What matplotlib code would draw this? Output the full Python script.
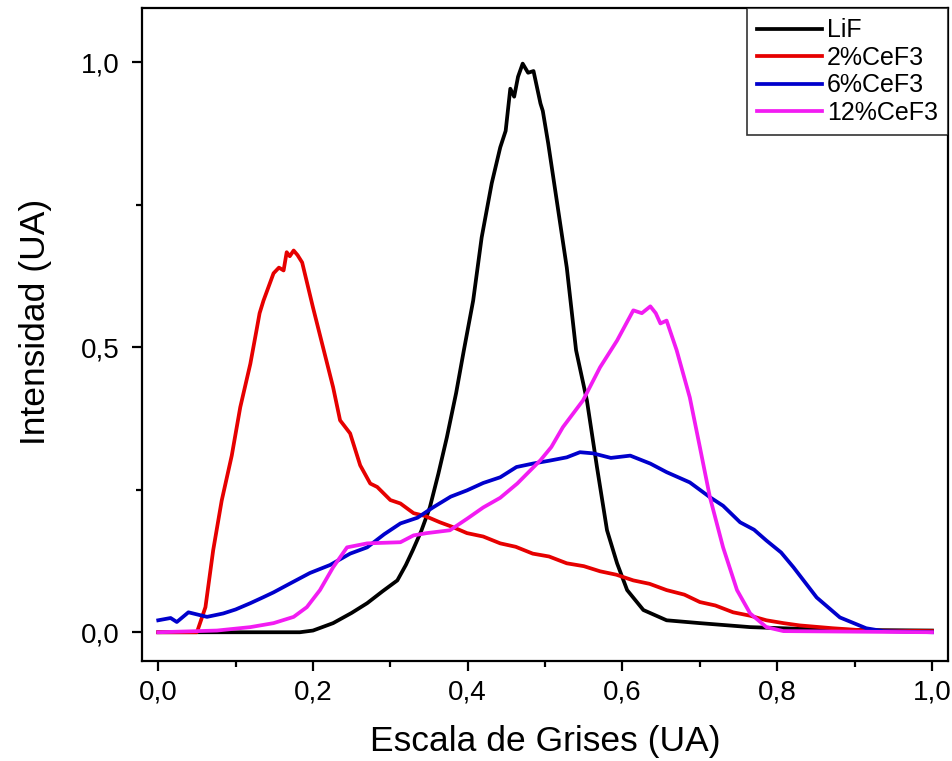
import matplotlib
matplotlib.use("Agg")
import matplotlib.pyplot as plt
from matplotlib.ticker import MultipleLocator

plt.rcParams['font.family'] = ['Liberation Sans', 'DejaVu Sans']

# Histogramas normalizados de escala de grises
lif_x = [0.0, 0.10, 0.183, 0.200, 0.226, 0.250, 0.270, 0.290, 0.309, 0.320, 0.329,
         0.340, 0.351, 0.362, 0.373, 0.385, 0.395, 0.407, 0.418, 0.431, 0.442, 0.449,
         0.455, 0.460, 0.465, 0.471, 0.478, 0.485, 0.494, 0.497, 0.504, 0.515, 0.528,
         0.540, 0.554, 0.567, 0.580, 0.593, 0.606, 0.627, 0.657, 0.700, 0.765, 0.829,
         0.900, 1.0]
lif_y = [0.0, 0.0, 0.0, 0.003, 0.016, 0.034, 0.051, 0.072, 0.091, 0.118, 0.144,
         0.178, 0.219, 0.278, 0.342, 0.420, 0.495, 0.582, 0.693, 0.788, 0.851, 0.880,
         0.954, 0.940, 0.975, 0.998, 0.982, 0.985, 0.928, 0.915, 0.858, 0.758, 0.640,
         0.495, 0.407, 0.290, 0.179, 0.121, 0.074, 0.039, 0.021, 0.016, 0.009, 0.006,
         0.004, 0.003]

ce2_x = [0.0, 0.050, 0.061, 0.071, 0.082, 0.095, 0.106, 0.119, 0.127, 0.131, 0.136,
         0.149, 0.156, 0.162, 0.166, 0.170, 0.175, 0.180, 0.186, 0.200, 0.213, 0.226,
         0.235, 0.248, 0.261, 0.274, 0.283, 0.300, 0.313, 0.330, 0.345, 0.364, 0.380,
         0.399, 0.420, 0.442, 0.462, 0.484, 0.505, 0.528, 0.550, 0.571, 0.592, 0.614,
         0.635, 0.657, 0.680, 0.700, 0.720, 0.743, 0.765, 0.786, 0.808, 0.829, 0.872,
         0.915, 1.0]
ce2_y = [0.0, 0.0, 0.044, 0.144, 0.231, 0.310, 0.395, 0.471, 0.530, 0.560, 0.582,
         0.630, 0.640, 0.635, 0.667, 0.660, 0.670, 0.662, 0.649, 0.570, 0.500, 0.430,
         0.372, 0.349, 0.293, 0.261, 0.255, 0.232, 0.226, 0.209, 0.204, 0.193, 0.185,
         0.174, 0.168, 0.156, 0.150, 0.138, 0.133, 0.121, 0.116, 0.107, 0.101, 0.091,
         0.085, 0.074, 0.066, 0.053, 0.047, 0.035, 0.029, 0.021, 0.016, 0.012, 0.007,
         0.003, 0.002]

ce6_x = [0.0, 0.016, 0.024, 0.039, 0.063, 0.084, 0.100, 0.119, 0.135, 0.149, 0.171,
         0.196, 0.222, 0.248, 0.270, 0.292, 0.313, 0.335, 0.355, 0.378, 0.399, 0.420,
         0.442, 0.463, 0.484, 0.505, 0.528, 0.545, 0.562, 0.585, 0.610, 0.636, 0.657,
         0.687, 0.713, 0.730, 0.752, 0.770, 0.786, 0.805, 0.821, 0.851, 0.881, 0.915,
         0.937, 1.0]
ce6_y = [0.021, 0.025, 0.018, 0.035, 0.027, 0.033, 0.040, 0.051, 0.061, 0.070, 0.086,
         0.104, 0.118, 0.138, 0.149, 0.172, 0.191, 0.201, 0.219, 0.238, 0.249, 0.262,
         0.272, 0.290, 0.296, 0.301, 0.307, 0.316, 0.314, 0.306, 0.310, 0.296, 0.281,
         0.263, 0.237, 0.222, 0.193, 0.180, 0.161, 0.140, 0.114, 0.061, 0.026, 0.007,
         0.002, 0.0]

ce12_x = [0.0, 0.076, 0.119, 0.149, 0.175, 0.192, 0.209, 0.226, 0.244, 0.270, 0.313,
          0.330, 0.347, 0.377, 0.400, 0.420, 0.442, 0.464, 0.494, 0.508, 0.523, 0.549,
          0.571, 0.593, 0.614, 0.625, 0.636, 0.643, 0.649, 0.657, 0.670, 0.687, 0.700,
          0.713, 0.730, 0.748, 0.765, 0.786, 0.808, 1.0]
ce12_y = [0.0, 0.003, 0.009, 0.016, 0.027, 0.044, 0.074, 0.114, 0.149, 0.156, 0.158,
          0.170, 0.174, 0.179, 0.200, 0.219, 0.236, 0.261, 0.302, 0.325, 0.360, 0.407,
          0.465, 0.512, 0.565, 0.560, 0.572, 0.560, 0.542, 0.547, 0.495, 0.412, 0.325,
          0.237, 0.149, 0.074, 0.033, 0.009, 0.002, 0.0]

labels = ['LiF', '2%CeF3', '6%CeF3', '12%CeF3']
colors = ['black', '#e60000', '#0000cc', '#f21cf2']

xticks = [0.0, 0.2, 0.4, 0.6, 0.8, 1.0]
xtick_labels = ['0,0', '0,2', '0,4', '0,6', '0,8', '1,0']
yticks = [0.0, 0.5, 1.0]
ytick_labels = ['0,0', '0,5', '1,0']

fig = plt.figure(figsize=(9.53, 7.61), dpi=100)
ax = fig.add_axes([0.149, 0.131, 0.846, 0.858])

series = [(lif_x, lif_y), (ce2_x, ce2_y), (ce6_x, ce6_y), (ce12_x, ce12_y)]
for (xs, ys), lab, col in zip(series, labels, colors):
    ax.plot(xs, ys, color=col, lw=2.7, label=lab, solid_joinstyle='round')

ax.set_xlim(-0.021, 1.021)
ax.set_ylim(-0.051, 1.095)

ax.set_xticks(xticks)
ax.set_xticklabels(xtick_labels)
ax.set_yticks(yticks)
ax.set_yticklabels(ytick_labels)
ax.xaxis.set_minor_locator(MultipleLocator(0.1))
ax.yaxis.set_minor_locator(MultipleLocator(0.25))
ax.tick_params(which='major', direction='out', length=7, width=1.6, labelsize=20)
ax.tick_params(axis='x', which='major', pad=6)
ax.tick_params(axis='y', which='major', pad=9)
ax.tick_params(which='minor', direction='out', length=4, width=1.6)
ax.tick_params(top=False, right=False)

for sp in ax.spines.values():
    sp.set_linewidth(1.6)

ax.set_xlabel('Escala de Grises (UA)', fontsize=25.5, labelpad=14)
ax.set_ylabel('Intensidad (UA)', fontsize=25.5)
ax.yaxis.set_label_coords(-0.112, 0.52)

leg = ax.legend(loc='upper right', bbox_to_anchor=(1.0, 1.0), fontsize=18,
                frameon=True, fancybox=False, borderaxespad=0,
                handlelength=2.6, handletextpad=0.2, labelspacing=0.14,
                borderpad=0.4)
leg.get_frame().set_edgecolor('black')
leg.get_frame().set_linewidth(1.2)

fig.savefig('out.png', dpi=100)
